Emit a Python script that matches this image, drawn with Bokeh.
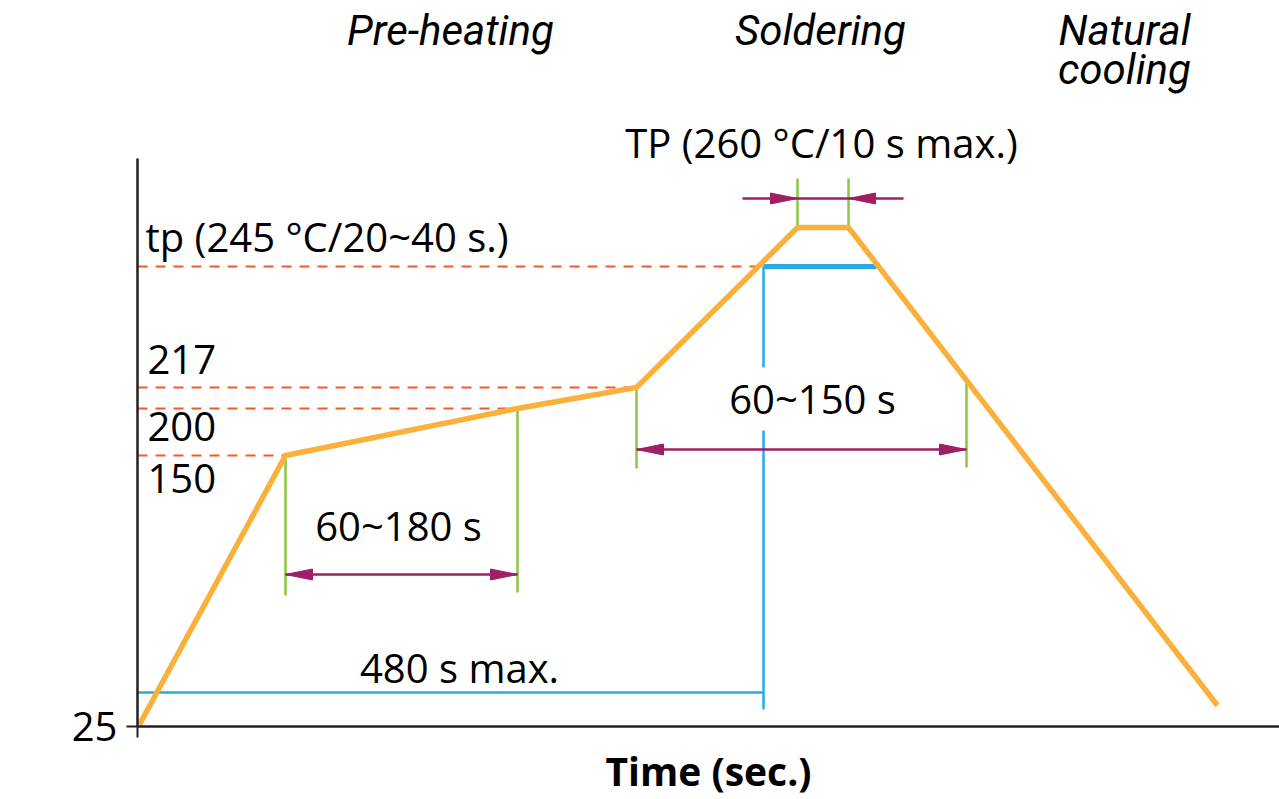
from bokeh.plotting import figure
from bokeh.models import Range1d, FixedTicker, Label
from bokeh.core.properties import value
from bokeh.embed import file_html
from bokeh.resources import INLINE

# ---------------- data (schematic diagram units: x = time, y = temperature level) ----------------
profile_time = [2, 148, 380, 499, 660, 711, 1080]
profile_level = [2, 271, 318, 339, 499, 499, 21]

temp_labels = ["25", "150", "200", "217", "245", "260"]
temp_levels = [0, 271, 318, 339, 460, 499]

# dashed guides: level and where they meet the profile
guide_levels = [460, 339, 318, 271]
guide_ends = [620, 499, 380, 148]

# green markers (x, y_top, y_bottom)
mark_x = [148, 380, 499, 829, 660, 711]
mark_y0 = [271, 318, 339, 343, 499, 499]
mark_y1 = [131, 134, 258, 259, 548, 548]

# dimension arrows (x_start, x_end, y)
dim_x0 = [148, 499]
dim_x1 = [380, 829]
dim_y = [152, 277]
dim_text = ["60~180 s", "60~150 s"]

# TP window (inward arrows)
tp_x0, tp_x1, tp_y = 660, 711, 528
tp_outer = [605, 766]

# blue 245 °C / 480 s marks
liq_x0, liq_x1, liq_y = 626, 739, 460
max_y = 34
blue_v_segments = [(460, 359), (296, 17)]

phases = ["Pre-heating", "Soldering", "Natural\ncooling"]
phase_x = [313, 683, 987]

# ---------------- figure ----------------
FONT = "Open Sans"
p = figure(width=1279, height=799, output_backend="svg", toolbar_location=None,
           x_range=Range1d(0, 1142), y_range=Range1d(0, 726),
           min_border_left=137, min_border_bottom=73, min_border_top=0, min_border_right=0)
p.outline_line_color = None
p.grid.visible = False
p.background_fill_color = "white"
p.border_fill_color = "white"

AX = "#231f20"
for ax in (p.xaxis[0], p.yaxis[0]):
    ax.axis_line_color = AX
    ax.axis_line_width = 2.5
    ax.major_tick_line_color = AX
    ax.major_tick_line_width = 2
    ax.major_tick_in = 0
    ax.major_tick_out = 11
    ax.minor_tick_line_color = None
    ax.ticker = FixedTicker(ticks=[0])

p.yaxis.bounds = (0, 568)
p.yaxis.major_label_overrides = {0: temp_labels[0]}
p.yaxis.major_label_text_font = FONT
p.yaxis.major_label_text_font_size = "40px"
p.yaxis.major_label_text_color = "black"
p.yaxis.major_label_standoff = 9

p.xaxis.major_label_overrides = {0: ""}
p.xaxis.major_label_text_font_size = "1px"
p.xaxis.major_label_standoff = 0
p.xaxis.axis_label = "Time (sec.)"
p.xaxis.axis_label_text_font = FONT
p.xaxis.axis_label_text_font_style = "bold"
p.xaxis.axis_label_text_font_size = "39px"
p.xaxis.axis_label_text_color = "black"
p.xaxis.axis_label_standoff = 6

p.add_layout(Label(x=-102, y=293, text="Temperature (°C)", angle=1.5708,
                   text_font=FONT, text_font_style="bold", text_font_size="39px",
                   text_align="center", text_baseline="middle", text_color="black"))

# dashed guides
p.segment(x0=[0] * len(guide_levels), y0=guide_levels, x1=guide_ends, y1=guide_levels,
          line_color="#f15a29", line_width=2.2, line_dash="10 8")

# blue lines
p.segment(x0=[0], y0=[max_y], x1=[liq_x0], y1=[max_y], line_color="#29abe2", line_width=2.5)
p.segment(x0=[liq_x0] * len(blue_v_segments), y0=[s[0] for s in blue_v_segments],
          x1=[liq_x0] * len(blue_v_segments), y1=[s[1] for s in blue_v_segments],
          line_color="#29abe2", line_width=2.5)
p.segment(x0=[liq_x0], y0=[liq_y], x1=[liq_x1], y1=[liq_y], line_color="#29abe2", line_width=5)

# green markers
p.segment(x0=mark_x, y0=mark_y0, x1=mark_x, y1=mark_y1, line_color="#8dc63f", line_width=2.5)

# profile
p.line(profile_time, profile_level, line_color="#fbb03b", line_width=5.5, line_join="miter")

# purple arrows
PURPLE = "#9e1f63"
HL, HW = 27, 5.5
heads_x, heads_y = [], []
def head(tip_x, y, direction):
    # direction +1: pointing right, -1: pointing left
    heads_x.append([tip_x, tip_x - direction * HL, tip_x - direction * HL])
    heads_y.append([y, y + HW, y - HW])

p.segment(x0=dim_x0, y0=dim_y, x1=dim_x1, y1=dim_y, line_color=PURPLE, line_width=2.5)
for a, b, y in zip(dim_x0, dim_x1, dim_y):
    head(a, y, -1)
    head(b, y, +1)
p.segment(x0=[tp_outer[0]], y0=[tp_y], x1=[tp_outer[1]], y1=[tp_y], line_color=PURPLE, line_width=2.5)
head(tp_x0, tp_y, +1)
head(tp_x1, tp_y, -1)
p.patches(heads_x, heads_y, fill_color=PURPLE, line_color=PURPLE, line_width=1)

# texts
def txt(x, y, s, align="left", size="40px", style="normal"):
    p.text(x=[x], y=[y], text=[s], text_font=value(FONT), text_font_size=size,
           text_align=align, text_baseline="alphabetic", text_color="black",
           text_font_style=style)

txt(8, 490, "tp (245 °C/20~40 s.)")
txt(10, 367, temp_labels[3])
txt(10, 300, temp_labels[2])
txt(10, 248, temp_labels[1])
txt(684, 584, "TP (260 °C/10 s max.)", align="center")
txt(261, 201, dim_text[0], align="center")
txt(675, 328, dim_text[1], align="center")
txt(322, 59, "480 s max.", align="center")

for name, x in zip(phases, phase_x):
    lines = name.split("\n")
    for i, ln in enumerate(lines):
        p.text(x=[x], y=[696 - i * 39], text=[ln], text_font=value("Roboto"),
               text_font_size="42px", text_font_style="italic", text_align="center",
               text_baseline="alphabetic", text_color="black")

open("out.html", "w").write(file_html(p, INLINE))
